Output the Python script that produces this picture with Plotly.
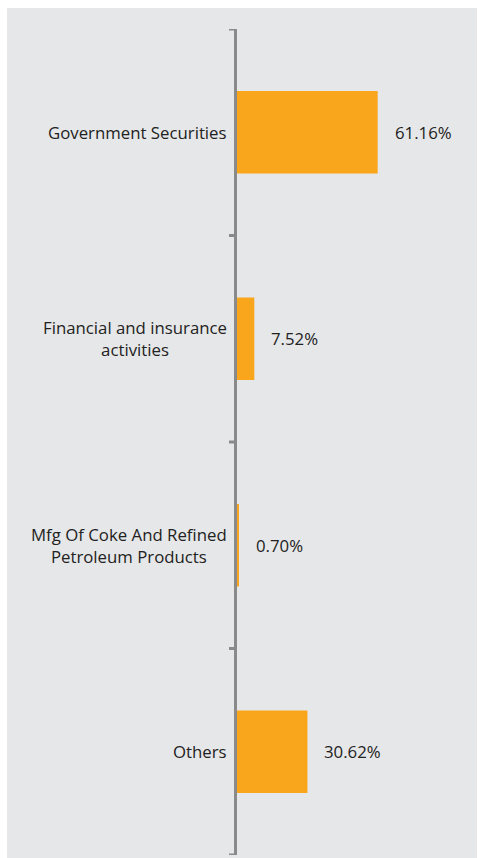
import plotly.graph_objects as go

categories = ["Government Securities", "Financial and insurance<br>activities",
              "Mfg Of Coke And Refined<br>Petroleum Products", "Others"]
values = [61.16, 7.52, 0.70, 30.62]
value_labels = ["61.16%", "7.52%", "0.70%", "30.62%"]

W, H = 481, 858
ml, mr, mt, mb = 237, 15, 29, 3
pw = W - ml - mr
ph = H - mt - mb

fig = go.Figure()
fig.add_trace(go.Bar(
    x=values, y=list(range(len(categories))), orientation="h",
    marker=dict(color="#f9a61d", line=dict(width=0)),
    width=0.4, hoverinfo="skip",
))

font = dict(family="Open Sans, Noto Sans, sans-serif", size=16.8, color="#222222")
ann = []
for i, (c, v, lab) in enumerate(zip(categories, values, value_labels)):
    ann.append(dict(x=0, xref="paper", y=i, yref="y", text=c, showarrow=False,
                    xanchor="right", yanchor="middle", align="center", xshift=-8, font=font))
    ann.append(dict(x=v, xref="x", y=i, yref="y", text=lab, showarrow=False,
                    xanchor="left", yanchor="middle", xshift=15, font=font))

fig.update_layout(
    width=W, height=H,
    margin=dict(l=ml, r=mr, t=mt, b=mb, pad=0),
    paper_bgcolor="white", plot_bgcolor="rgba(0,0,0,0)",
    showlegend=False,
    xaxis=dict(range=[0, 100 * pw / 230], visible=False, fixedrange=True),
    yaxis=dict(range=[3.5, -0.5], tickvals=list(range(len(categories))),
               showticklabels=False, showgrid=False, zeroline=False,
               showline=True, linecolor="#8a8a8a", linewidth=3,
               ticks="", fixedrange=True),
    annotations=ann,
    shapes=[dict(type="rect", xref="paper", yref="paper",
                 x0=(7 - ml) / pw, x1=(477 - ml) / pw,
                 y0=(H - mb - 858) / ph, y1=(H - mb - 8) / ph,
                 fillcolor="#e6e7e8", line=dict(width=0), layer="below")],
)
# boundary tick marks on the category axis
for b in [-0.5, 0.5, 1.5, 2.5, 3.5]:
    fig.add_shape(type="line", xref="paper", yref="y", x0=-8 / pw, x1=-1 / pw, y0=b, y1=b,
                  line=dict(color="#8a8a8a", width=3))

fig.write_html("out.html")
